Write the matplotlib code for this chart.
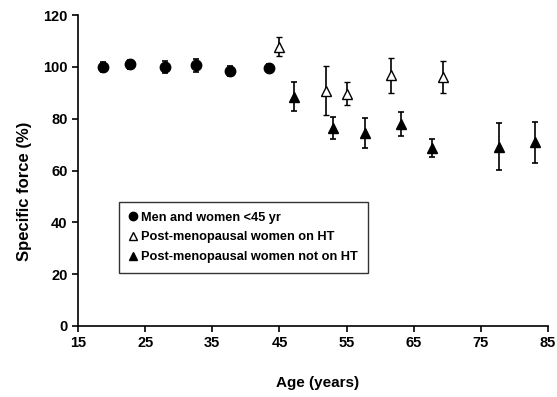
import numpy as np
import matplotlib.pyplot as plt
from matplotlib.lines import Line2D

plt.rcParams['font.family'] = ['Liberation Sans', 'DejaVu Sans']
plt.rcParams['font.weight'] = 'bold'

# men and women <45 yr
young_age = [18.7, 22.8, 27.9, 32.5, 37.7, 43.4]
young_force = [100.0, 101.0, 100.0, 100.6, 98.4, 99.5]
young_err = [1.8, 1.8, 2.2, 2.6, 2.0, 1.5]

# post-menopausal women on HT
ht_age = [45.0, 51.9, 55.1, 61.6, 69.3]
ht_force = [107.8, 90.8, 89.7, 96.8, 96.1]
ht_err = [3.6, 9.5, 4.6, 6.7, 6.1]

# post-menopausal women not on HT
noht_age = [47.1, 53.0, 57.8, 63.1, 67.7, 77.7, 83.0]
noht_force = [88.5, 76.4, 74.4, 78.0, 68.8, 69.2, 70.9]
noht_err = [5.7, 4.2, 5.7, 4.7, 3.5, 9.0, 8.0]

labels = ['Men and women <45 yr', 'Post-menopausal women on HT',
          'Post-menopausal women not on HT']

fig = plt.figure(figsize=(5.57, 3.97), dpi=100)
ax = fig.add_axes([0.14, 0.179, 0.844, 0.783])

ekw = dict(ecolor='black', elinewidth=1.2, capsize=2.5, capthick=1.2, linestyle='none')
ax.errorbar(young_age, young_force, yerr=young_err, fmt='o', ms=7.5,
            mfc='black', mec='black', **ekw)
ax.errorbar(ht_age, ht_force, yerr=ht_err, fmt='^', ms=7.5,
            mfc='white', mec='black', mew=1.0, **ekw)
ax.errorbar(noht_age, noht_force, yerr=noht_err, fmt='^', ms=7.5,
            mfc='black', mec='black', **ekw)

ax.set_xlim(15, 85)
ax.set_ylim(0, 120)
ax.set_xticks(np.arange(15, 86, 10))
ax.set_yticks(np.arange(0, 121, 20))
ax.spines['top'].set_visible(False)
ax.spines['right'].set_visible(False)
ax.spines['left'].set_linewidth(1.2)
ax.spines['bottom'].set_linewidth(1.2)
ax.tick_params(direction='out', length=4, width=1.2, labelsize=10.5)
for lab in ax.get_xticklabels() + ax.get_yticklabels():
    lab.set_fontweight('bold')

ax.set_xlabel('Age (years)', fontsize=11, fontweight='bold')
ax.set_ylabel('Specific force (%)', fontsize=12, fontweight='bold')
ax.xaxis.set_label_coords(0.51, -0.162)
ax.yaxis.set_label_coords(-0.098, 0.434)

handles = [
    Line2D([], [], marker='o', ls='none', ms=6, mfc='black', mec='black'),
    Line2D([], [], marker='^', ls='none', ms=6, mfc='white', mec='black'),
    Line2D([], [], marker='^', ls='none', ms=6, mfc='black', mec='black'),
]
leg = ax.legend(handles, labels, loc='upper left', bbox_to_anchor=(0.088, 0.40),
                frameon=True, fancybox=False, edgecolor='black', fontsize=9.2,
                handlelength=0.6, handletextpad=0.3, labelspacing=0.6,
                borderpad=0.8, borderaxespad=0)
leg.get_frame().set_linewidth(1.0)
for t in leg.get_texts():
    t.set_fontweight('bold')

fig.savefig('out.png', dpi=100)
